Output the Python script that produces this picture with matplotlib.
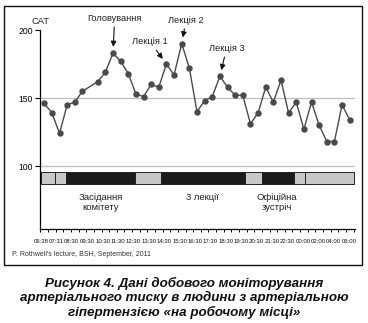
import numpy as np
import matplotlib
matplotlib.use("Agg")
import matplotlib.pyplot as plt
from matplotlib.patches import Rectangle
from matplotlib.transforms import blended_transform_factory

# ---- data ----
idx = [0, 1, 2, 3, 4, 5, 7, 8, 9, 10, 11, 12, 13, 14, 15, 16, 17, 18, 19, 20,
       21, 22, 23, 24, 25, 26, 27, 28, 29, 30, 31, 32, 33, 34, 35, 36, 37, 38, 39, 40]
sbp = [146, 139, 124, 145, 147, 155, 162, 169, 183, 177, 168, 153, 151, 160, 158, 175, 167, 190, 172, 140,
       148, 151, 166, 158, 152, 152, 131, 139, 158, 147, 163, 139, 147, 127, 147, 130, 118, 118, 145, 134]
time_labels = ["06:38", "07:31", "08:30", "09:30", "10:30", "11:30", "12:30", "13:30", "14:30", "15:30",
               "16:30", "17:30", "18:30", "19:30", "20:30", "21:30", "22:30", "00:00", "02:00", "04:00", "06:00"]
seg_edges = [-0.43, 1.34, 2.84, 11.9, 15.3, 26.3, 28.5, 32.7, 34.2, 40.6]
seg_kind = ["g", "g", "k", "g", "k", "g", "k", "g", "g"]
activity_labels = ["Засідання\nкомітету", "3 лекції", "Офіційна\nзустріч"]
activity_x = [7.35, 20.7, 30.5]
events = ["Головування", "Лекція 1", "Лекція 2", "Лекція 3"]
event_idx = [9, 16, 18, 23]
event_offsets = [(1.2, 25), (-11.7, 16), (3.1, 16.8), (4.8, 20)]

W, H = 368, 323
fig = plt.figure(figsize=(W / 100, H / 100), dpi=100)
fam = ["Liberation Sans", "DejaVu Sans"]
plt.rcParams['font.family'] = fam

# outer frame
fig.add_artist(Rectangle((4 / W, 1 - 265 / H), 358 / W, 259.5 / H, transform=fig.transFigure,
                         fill=False, edgecolor="#111111", lw=1.0))

ax = fig.add_axes([40 / W, 1 - 229 / H, 314.5 / W, 199 / H])
ax.set_xlim(-0.56, 40.63)
ax.set_ylim(53.7, 200)
for s in ["top", "right"]:
    ax.spines[s].set_visible(False)
ax.spines["left"].set_linewidth(0.9)
ax.spines["bottom"].set_linewidth(0.9)
ax.set_facecolor("none")

for yv in [100, 150]:
    ax.axhline(yv, color="#bdbdbd", lw=0.9, zorder=1)

ax.set_yticks([100, 150, 200])
ax.set_yticklabels(["100", "150", "200"], fontsize=6.2)
ax.tick_params(axis="y", length=3.6, width=0.8, pad=1.5)

ax.set_xticks(np.arange(42) - 0.5)
ax.set_xticklabels([])
ax.tick_params(axis="x", length=2.4, width=0.7, direction="out")

# time labels spread along the axis
tr = blended_transform_factory(ax.transData, fig.transFigure)
pos = np.linspace(-0.43, 39.93, len(time_labels))
for p, lab in zip(pos, time_labels):
    ax.text(p, 1 - 241.5 / H, lab, transform=tr, ha="center", va="center",
            fontsize=4.3, family=["Liberation Sans Narrow", "Liberation Sans", "DejaVu Sans"],
            color="#111111")

# activity bar
for a, b, k in zip(seg_edges[:-1], seg_edges[1:], seg_kind):
    ax.add_patch(Rectangle((a, 86.8), b - a, 9.0, facecolor="#c8c8c8" if k == "g" else "#1b1b1b",
                           edgecolor="#222222", lw=0.7, zorder=2))
for x, lab in zip(activity_x, activity_labels):
    ax.text(x, 80.5, lab, ha="center", va="top", fontsize=6.8, linespacing=1.25, color="#222222")

# series
ax.plot(idx, sbp, color="#4a4a4a", lw=1.0, marker="o", markersize=3.6,
        markerfacecolor="#4a4a4a", markeredgecolor="#4a4a4a", zorder=3, clip_on=False)

# annotations
for name, ei, off in zip(events, event_idx, event_offsets):
    yv = sbp[idx.index(ei)]
    ax.annotate(name, xy=(ei, yv), xytext=off, textcoords="offset points",
                ha="center", va="center", fontsize=6.7, color="#222222",
                arrowprops=dict(arrowstyle="-|>", color="#111111", lw=0.8,
                                mutation_scale=8, shrinkA=1, shrinkB=4.5))

ax.text(0.003, 203, "САТ", transform=blended_transform_factory(ax.transAxes, ax.transData),
        ha="center", va="bottom", fontsize=6.8, color="#222222")

fig.text(12 / W, 1 - 255 / H, "P. Rothwell's lecture, BSH, September, 2011", fontsize=5.0,
         ha="left", va="center", color="#333333")

caption = ["Рисунок 4. Дані добового моніторування",
           "артеріального тиску в людини з артеріальною",
           "гіпертензією «на робочому місці»"]
for i, line in enumerate(caption):
    fig.text(0.5, 1 - (283 + 14.5 * i) / H, line, ha="center", va="center", fontsize=9.6,
             fontweight="bold", fontstyle="italic", color="#111111")

fig.savefig("out.png", dpi=100)
